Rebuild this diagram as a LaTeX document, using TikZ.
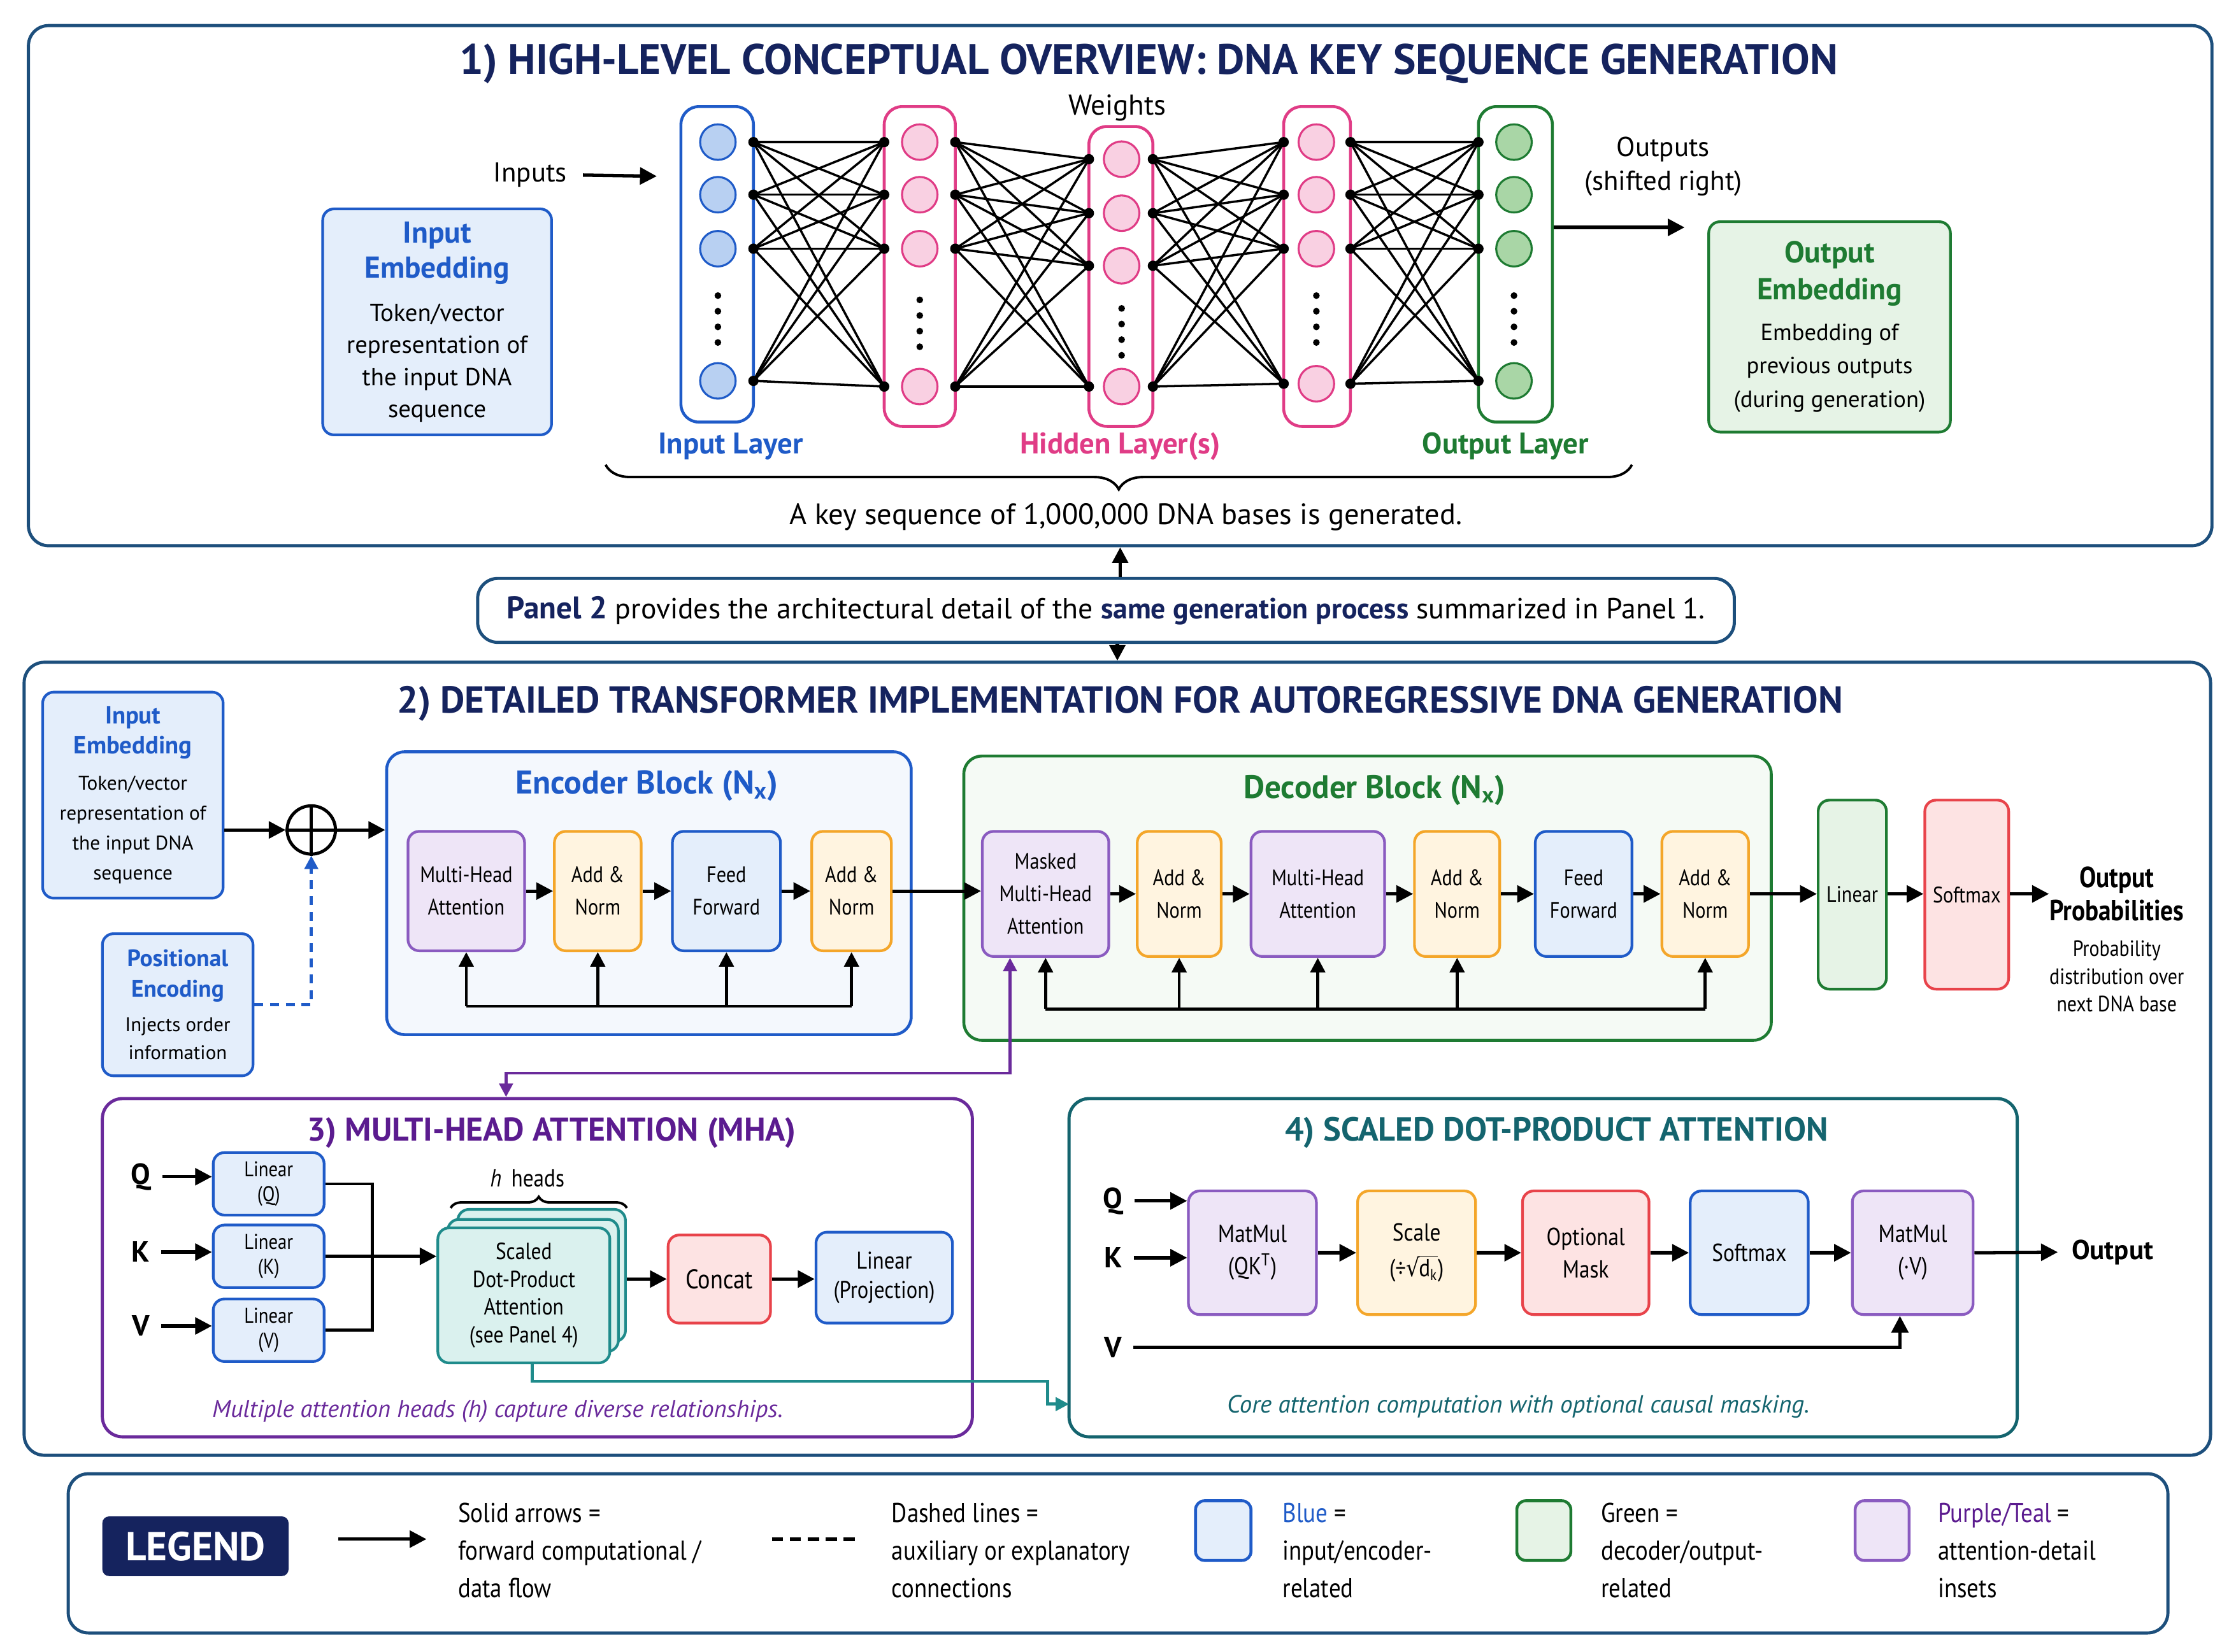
\documentclass[tikz,border=0pt]{standalone}
\usepackage{fontspec}
\setmainfont{PT Sans}
\newfontfamily\cnd{PT Sans}[FakeStretch=0.86]
\newfontfamily\djv{DejaVu Sans}[FakeStretch=0.86]
\usetikzlibrary{arrows.meta,decorations.pathreplacing,calc}
\definecolor{navy}{HTML}{15235E}
\definecolor{frame}{HTML}{1D4F7C}
\definecolor{bluedk}{HTML}{1F5BC8}
\definecolor{bluefill}{HTML}{E4EEFB}
\definecolor{bluecirc}{HTML}{B8D0F2}
\definecolor{pinkdk}{HTML}{E03C86}
\definecolor{pinkfill}{HTML}{F9D0E2}
\definecolor{greendk}{HTML}{1E7B32}
\definecolor{greenfill}{HTML}{E6F3E6}
\definecolor{greencirc}{HTML}{A9D6A6}
\definecolor{purpdk}{HTML}{8A5BC0}
\definecolor{purpfill}{HTML}{EEE5F7}
\definecolor{purptitle}{HTML}{5B1B8F}
\definecolor{purpline}{HTML}{6A2A9B}
\definecolor{orangedk}{HTML}{F4A62A}
\definecolor{orangefill}{HTML}{FFF4E0}
\definecolor{reddk}{HTML}{E8434A}
\definecolor{redfill}{HTML}{FDE3E3}
\definecolor{tealdk}{HTML}{1F8B8B}
\definecolor{tealfill}{HTML}{DAF1EE}
\definecolor{tealtitle}{HTML}{14646E}
\def\pxu{0.022315cm}
\newcommand\fsz[2]{\fontsize{#1pt}{#2pt}\selectfont}
\newcommand\boxn[7]{\node[#1, minimum width={(#5-#3)*\pxu}, minimum height={(#6-#4)*\pxu}] (#2) at ({(#3+#5)/2},{(#4+#6)/2}) {#7};}
\newcommand\sqrtdk{{\djv √}\kern-0.3pt$\overline{\mbox{d}_{\mbox{\fsz{7}{8}k}}}$}
\begin{document}
\begin{tikzpicture}[x=0.022315cm, y=-0.022315cm,
  panel/.style={draw=frame, line width=1.4pt, rounded corners=9pt, fill=white, inner sep=0pt},
  ttl/.style={font=\fsz{19}{21}\bfseries, text=navy, inner sep=0pt},
  bx/.style={line width=1.2pt, rounded corners=5pt, align=center, inner sep=1pt, font=\cnd\fsz{10}{14.5}},
  bbox/.style={bx, draw=bluedk, fill=bluefill},
  gbox/.style={bx, draw=greendk, fill=greenfill},
  pbox/.style={bx, draw=purpdk, fill=purpfill},
  obox/.style={bx, draw=orangedk, fill=orangefill},
  redbox/.style={bx, draw=reddk, fill=redfill},
  tbox/.style={bx, draw=tealdk, fill=tealfill},
  layer/.style={line width=1.3pt, rounded corners=8pt, fill=white, inner sep=0pt},
  neu/.style={circle, line width=0.9pt, minimum size={25*\pxu}, inner sep=0pt},
  wire/.style={line width=1pt},
  arr/.style={line width=1.5pt, -{Triangle[length=7.5pt,width=7.5pt]}},
  res/.style={line width=1.3pt},
  resarr/.style={line width=1.3pt, -{Triangle[length=6.5pt,width=6.5pt]}},
  purpconn/.style={draw=purpline, line width=1.3pt, {Triangle[length=6pt,width=6pt]}-{Triangle[length=6pt,width=6pt]}},
  tealconn/.style={draw=tealdk, line width=1.3pt, -{Triangle[length=6pt,width=6pt]}},
  swatch/.style={line width=1.3pt, rounded corners=4pt, inner sep=0pt},
  lgtext/.style={anchor=west, align=left, font=\cnd\fsz{12.2}{16.8}, inner sep=0pt}
]
\useasboundingbox (0,0) rectangle (1568,1162);
\fill[white] (0,0) rectangle (1568,1162);

%% ---------------- PANEL 1 ----------------
\boxn{panel}{P1}{20}{18}{1556}{384}{}
\node[ttl] (T1) at (808,45) {1) HIGH-LEVEL CONCEPTUAL OVERVIEW: DNA KEY SEQUENCE GENERATION};

\boxn{bbox, font=\fsz{11}{14.3}}{IE1}{227}{147}{388}{306}{{\fsz{13.5}{16}\bfseries\color{bluedk}Input}\\[1.5pt]{\fsz{13.5}{16}\bfseries\color{bluedk}Embedding}\\[5pt]Token/vector\\representation of\\the input DNA\\sequence}

\node[font=\fsz{12.2}{14}, inner sep=0pt] (INP) at (373,123) {Inputs};
\coordinate (INPE) at (462,124);
\draw[arr, shorten <=7pt] (INP.east) -- (INPE);

% layers
\boxn{layer, draw=bluedk}{L1}{479}{75}{530}{297}{}
\boxn{layer, draw=pinkdk}{L2}{622}{75}{672}{300}{}
\boxn{layer, draw=pinkdk}{L3}{766}{89}{811}{300}{}
\boxn{layer, draw=pinkdk}{L4}{903}{75}{950}{300}{}
\boxn{layer, draw=greendk}{L5}{1040}{75}{1092}{297}{}

\foreach \i/\y in {1/100,2/137,3/175,4/268} {
  \node[neu, draw=bluedk, fill=bluecirc] (na-\i) at (505,\y) {};
  \coordinate (ra-\i) at (530,\y);
}
\foreach \i/\y in {1/100,2/137,3/175,4/272} {
  \node[neu, draw=pinkdk, fill=pinkfill] (nb-\i) at (647,\y) {};
  \coordinate (lb-\i) at (622,\y);
  \coordinate (rb-\i) at (672,\y);
}
\foreach \i/\y in {1/112,2/150,3/187,4/272} {
  \node[neu, draw=pinkdk, fill=pinkfill] (nc-\i) at (789,\y) {};
  \coordinate (lc-\i) at (766,\y);
  \coordinate (rc-\i) at (811,\y);
}
\foreach \i/\y in {1/100,2/137,3/175,4/270} {
  \node[neu, draw=pinkdk, fill=pinkfill] (nd-\i) at (926,\y) {};
  \coordinate (ld-\i) at (903,\y);
  \coordinate (rd-\i) at (950,\y);
}
\foreach \i/\y in {1/100,2/137,3/175,4/268} {
  \node[neu, draw=greendk, fill=greencirc] (ne-\i) at (1065,\y) {};
  \coordinate (le-\i) at (1040,\y);
}
% ellipsis dots
\foreach \xx/\yy in {505/208,647/211,789/217,926/208,1065/208}
  \foreach \d in {0,1,2,3} \fill (\xx,\yy+11*\d) circle (1.5pt);

% full connections
\foreach \i in {1,...,4} \foreach \j in {1,...,4} {
  \draw[wire] (ra-\i) -- (lb-\j);
  \draw[wire] (rb-\i) -- (lc-\j);
  \draw[wire] (rc-\i) -- (ld-\j);
  \draw[wire] (rd-\i) -- (le-\j);
}
\foreach \i in {1,...,4} {
  \fill (ra-\i) circle (2.3pt); \fill (lb-\i) circle (2.3pt); \fill (rb-\i) circle (2.3pt);
  \fill (lc-\i) circle (2.3pt); \fill (rc-\i) circle (2.3pt); \fill (ld-\i) circle (2.3pt);
  \fill (rd-\i) circle (2.3pt); \fill (le-\i) circle (2.3pt);
}

\node[font=\fsz{12.8}{14}, inner sep=0pt] (WGT) at (786,76) {Weights};
\node[font=\fsz{13.3}{15}\bfseries, text=bluedk, inner sep=0pt] (LB1) at (514,314) {Input Layer};
\node[font=\fsz{13.3}{15}\bfseries, text=pinkdk, inner sep=0pt] (LB2) at (788,314) {Hidden Layer(s)};
\node[font=\fsz{13.3}{15}\bfseries, text=greendk, inner sep=0pt] (LB3) at (1059,314) {Output Layer};

\draw[decorate, decoration={brace, amplitude=11pt}, line width=1.1pt] (1148,327) -- (426,327);
\node[font=\fsz{13.2}{15}, inner sep=0pt] (KEY) at (792,364) {A key sequence of 1,000,000 DNA bases is generated.};

\node[font=\fsz{12.2}{15}, align=center, inner sep=0pt] (OUTP) at (1170,117) {Outputs\\(shifted right)};
\coordinate (OA) at (1185,160);
\draw[arr] (L5.east |- OA) -- (OA);

\boxn{gbox, font=\fsz{10.4}{15}}{OE1}{1202}{156}{1372}{304}{{\fsz{13.5}{16}\bfseries\color{greendk}Output}\\[1.5pt]{\fsz{13.5}{16}\bfseries\color{greendk}Embedding}\\[3pt]Embedding of\\previous outputs\\(during generation)}

%% ---------------- BANNER ----------------
\boxn{draw=frame, line width=1.4pt, rounded corners=9pt, fill=white, font=\fsz{13}{15}}{BAN}{336}{407}{1220}{452}{{\fsz{14}{15}\bfseries\color{navy}Panel 2} provides the architectural detail of the {\bfseries\color{navy}same generation process} summarized in Panel 1.}

%% ---------------- PANEL 2 ----------------
\boxn{panel}{P2}{17}{466}{1555}{1024}{}
\draw[line width=1.5pt, -{Triangle[length=7pt,width=7pt]}] (BAN.north -| P1.south) -- (P1.south);
\draw[line width=1.5pt, -{Triangle[length=7pt,width=7pt]}] (BAN.south -| P2.north) -- (P2.north);
\node[ttl, font=\fsz{16.8}{18}\bfseries] (T2) at (788,495) {2) DETAILED TRANSFORMER IMPLEMENTATION FOR AUTOREGRESSIVE DNA GENERATION};

\boxn{bbox, font=\fsz{8.9}{13.3}}{IE2}{30}{487}{157}{632}{{\fsz{11}{14}\bfseries\color{bluedk}Input}\\[0pt]{\fsz{11}{14}\bfseries\color{bluedk}Embedding}\\[3pt]Token/vector\\representation of\\the input DNA\\sequence}
\boxn{bbox, font=\fsz{8.8}{12.5}}{PE}{72}{657}{178}{757}{{\fsz{10.6}{14}\bfseries\color{bluedk}Positional}\\[1pt]{\fsz{10.6}{14}\bfseries\color{bluedk}Encoding}\\[3pt]Injects order\\information}

\node[circle, draw, line width=1.4pt, minimum size={34*\pxu}, inner sep=0pt] (OP) at (219,584) {};
\draw[line width=1.4pt] (OP.north) -- (OP.south) (OP.west) -- (OP.east);

% encoder
\boxn{draw=bluedk, line width=1.3pt, rounded corners=8pt, fill=bluefill!40}{ENC}{272}{529}{641}{728}{}
\node[font=\fsz{14.7}{16}\bfseries, text=bluedk, inner sep=0pt] (ENCT) at (455,553) {Encoder Block (N\textsubscript{x})};
\boxn{pbox}{EMHA}{287}{585}{369}{669}{Multi-Head\\Attention}
\boxn{obox}{EAN1}{390}{585}{451}{669}{Add \&\\Norm}
\boxn{bbox}{EFF}{473}{585}{549}{669}{Feed\\Forward}
\boxn{obox}{EAN2}{571}{585}{627}{669}{Add \&\\Norm}

\draw[arr] (IE2.east |- OP) -- (OP.west);
\draw[arr] (OP.east) -- (ENC.west |- OP);
\draw[dashed, draw=bluedk, line width=1.4pt, dash pattern=on 4pt off 3pt, -{Triangle[length=6pt,width=6pt]}] (PE.east) -| (OP.south);

\draw[arr] (EMHA.east) -- (EAN1.west);
\draw[arr] (EAN1.east) -- (EFF.west);
\draw[arr] (EFF.east) -- (EAN2.west);
\coordinate (ERY) at (0,708);
\draw[res] (EMHA.south |- ERY) -- (EAN2.south |- ERY);
\foreach \b in {EMHA,EAN1,EFF,EAN2} \draw[resarr] (\b.south |- ERY) -- (\b.south);

% decoder
\boxn{draw=greendk, line width=1.3pt, rounded corners=8pt, fill=greenfill!40}{DEC}{678}{532}{1246}{732}{}
\node[font=\fsz{14.5}{16}\bfseries, text=greendk, inner sep=0pt] (DECT) at (967,556) {Decoder Block (N\textsubscript{x})};
\boxn{pbox}{DMMHA}{691}{585}{780}{673}{Masked\\Multi-Head\\Attention}
\boxn{obox}{DAN1}{800}{585}{859}{673}{Add \&\\Norm}
\boxn{pbox}{DMHA}{880}{585}{974}{673}{Multi-Head\\Attention}
\boxn{obox}{DAN2}{995}{585}{1055}{673}{Add \&\\Norm}
\boxn{bbox}{DFF}{1080}{585}{1148}{673}{Feed\\Forward}
\boxn{obox}{DAN3}{1169}{585}{1230}{673}{Add \&\\Norm}

\draw[arr] (EAN2.east) -- (DMMHA.west |- EAN2.east);
\draw[arr] (DMMHA.east) -- (DAN1.west);
\draw[arr] (DAN1.east) -- (DMHA.west);
\draw[arr] (DMHA.east) -- (DAN2.west);
\draw[arr] (DAN2.east) -- (DFF.west);
\draw[arr] (DFF.east) -- (DAN3.west);
\coordinate (DRY) at (0,710);
\draw[res] (DMMHA.south |- DRY) -- (DAN3.south |- DRY);
\foreach \b in {DMMHA,DAN1,DMHA,DAN2,DAN3} \draw[resarr] (\b.south |- DRY) -- (\b.south);

\boxn{gbox, fill=greenfill}{LIN}{1279}{563}{1327}{696}{Linear}
\boxn{redbox}{SMX}{1354}{563}{1413}{696}{Softmax}
\draw[arr] (DAN3.east) -- (LIN.west |- DAN3.east);
\draw[arr] (LIN.east |- DAN3.east) -- (SMX.west |- DAN3.east);
\node[font=\cnd\fsz{13}{14.6}\bfseries, align=center, inner sep=0pt] (OPROB) at (1489,629) {Output\\Probabilities};
\node[font=\cnd\fsz{9.9}{12.4}, align=center, inner sep=0pt] (OSUB) at (1489,687) {Probability\\distribution over\\next DNA base};
\draw[arr] (SMX.east |- DAN3.east) -- (OPROB.west |- DAN3.east);

%% ---------------- PANEL 3 ----------------
\boxn{draw=purpline, line width=1.4pt, rounded corners=9pt, fill=white}{P3}{72}{773}{684}{1011}{}
\coordinate (PB) at (356,755);
\draw[purpconn] ([xshift={-25*\pxu}]DMMHA.south) |- (PB) -- (PB |- P3.north);
\node[font=\fsz{14.7}{16}\bfseries, text=purptitle, inner sep=0pt] (T3) at (388,797) {3) MULTI-HEAD ATTENTION (MHA)};

\node[font=\fsz{13}{15}\bfseries, inner sep=0pt] (Q3) at (99,828) {Q};
\node[font=\fsz{13}{15}\bfseries, inner sep=0pt] (K3) at (99,881) {K};
\node[font=\fsz{13}{15}\bfseries, inner sep=0pt] (V3) at (99,933) {V};
\boxn{bbox, font=\cnd\fsz{9.5}{11}}{LQ}{150}{811}{228}{855}{Linear\\(Q)}
\boxn{bbox, font=\cnd\fsz{9.5}{11}}{LK}{150}{862}{228}{906}{Linear\\(K)}
\boxn{bbox, font=\cnd\fsz{9.5}{11}}{LV}{150}{914}{228}{958}{Linear\\(V)}
\draw[arr, shorten <=5pt] (Q3.east) -- (LQ.west |- Q3.east);
\draw[arr, shorten <=5pt] (K3.east) -- (LK.west |- K3.east);
\draw[arr, shorten <=5pt] (V3.east) -- (LV.west |- V3.east);

\boxn{tbox}{SDB}{322}{851}{440}{944}{}
\boxn{tbox}{SDM}{315}{858}{435}{951}{}
\boxn{tbox, font=\cnd\fsz{10.4}{12.4}}{SD}{308}{864}{429}{959}{Scaled\\Dot-Product\\Attention\\(see Panel 4)}
\coordinate (BUS) at (262,884);
\draw[res] (LQ.east) -| (BUS) |- (LV.east);
\draw[arr] (LK.east) -- (SD.west |- LK.east);
\draw[decorate, decoration={brace, amplitude=5pt}, line width=1.1pt] (317,850) -- (441,850);
\node[font=\cnd\fsz{11}{12}, inner sep=0pt] (HH) at (371,829) {\textit{h}\, heads};

\boxn{redbox, font=\cnd\fsz{12}{14}}{CON}{470}{869}{542}{931}{Concat}
\boxn{bbox, font=\cnd\fsz{10.8}{13}}{LP}{574}{867}{670}{931}{Linear\\(Projection)}
\draw[arr] (SDB.east |- CON.west) -- (CON.west);
\draw[arr] (CON.east) -- (LP.west |- CON.east);
\node[font=\fsz{10.9}{12}\itshape, text=purpline, inner sep=0pt] (C3) at (350,993) {Multiple attention heads (h) capture diverse relationships.};

%% ---------------- PANEL 4 ----------------
\boxn{draw=tealtitle, line width=1.4pt, rounded corners=9pt, fill=white}{P4}{752}{773}{1419}{1011}{}
\coordinate (TB) at (737,972);
\coordinate (TE) at (752,988);
\draw[tealconn] ([xshift={6*\pxu}]SD.south) |- (TB) |- (TE);
\node[font=\fsz{14.9}{16}\bfseries, text=tealtitle, inner sep=0pt] (T4) at (1095,797) {4) SCALED DOT-PRODUCT ATTENTION};

\node[font=\fsz{13}{15}\bfseries, inner sep=0pt] (Q4) at (783,845) {Q};
\node[font=\fsz{13}{15}\bfseries, inner sep=0pt] (K4) at (783,885) {K};
\node[font=\fsz{13}{15}\bfseries, inner sep=0pt] (V4) at (783,948) {V};
\boxn{pbox, font=\cnd\fsz{11}{14.5}}{MM1}{836}{838}{926}{925}{MatMul\\(QK\textsuperscript{T})}
\boxn{obox, font=\cnd\fsz{11}{16}}{SCL}{955}{838}{1038}{925}{Scale\\(÷\sqrtdk)}
\boxn{redbox, font=\cnd\fsz{11}{14.5}}{MSK}{1071}{838}{1160}{925}{Optional\\Mask}
\boxn{bbox, font=\cnd\fsz{11}{14.5}}{SFX}{1189}{838}{1272}{925}{Softmax}
\boxn{pbox, font=\cnd\fsz{11}{14.5}}{MM2}{1303}{838}{1388}{925}{MatMul\\(·V)}
\draw[arr, shorten <=5pt] (Q4.east) -- (MM1.west |- Q4.east);
\draw[arr, shorten <=5pt] (K4.east) -- (MM1.west |- K4.east);
\draw[arr] (MM1.east) -- (SCL.west);
\draw[arr] (SCL.east) -- (MSK.west);
\draw[arr] (MSK.east) -- (SFX.west);
\draw[arr] (SFX.east) -- (MM2.west);
\node[font=\fsz{12.2}{15}\bfseries, inner sep=0pt] (OUT4) at (1486,881) {Output};
\draw[arr, shorten >=6pt] (MM2.east) -- (OUT4.west);
\draw[arr, shorten <=5pt] (V4.east) -| ([xshift={-9*\pxu}]MM2.south);
\node[font=\fsz{11.1}{12}\itshape, text=tealtitle, inner sep=0pt] (C4) at (1068,990) {Core attention computation with optional causal masking.};

%% ---------------- LEGEND ----------------
\boxn{panel}{LEG}{48}{1037}{1525}{1149}{}
\boxn{fill=navy, rounded corners=3pt, text=white, font=\fsz{18}{19}\bfseries, inner sep=0pt}{LGT}{72}{1067}{203}{1109}{LEGEND}
\coordinate (LA1) at (238,1083);
\coordinate (LA2) at (300,1083);
\draw[arr] (LA1) -- (LA2);
\node[lgtext] (LG1) at (322,1091) {Solid arrows =\\forward computational /\\data flow};
\coordinate (LD1) at (543,1083);
\coordinate (LD2) at (605,1083);
\draw[line width=1.6pt, dash pattern=on 5pt off 3pt] (LD1) -- (LD2);
\node[lgtext] (LG2) at (627,1091) {Dashed lines =\\auxiliary or explanatory\\connections};
\boxn{swatch, draw=bluedk, fill=bluefill}{SWB}{841}{1056}{880}{1098}{}
\node[lgtext] (LG3) at (902,1091) {{\color{bluedk}Blue} =\\input/encoder-\\related};
\boxn{swatch, draw=greendk, fill=greenfill}{SWG}{1067}{1056}{1105}{1098}{}
\node[lgtext] (LG4) at (1126,1091) {Green =\\decoder/output-\\related};
\boxn{swatch, draw=purpdk, fill=purpfill}{SWP}{1305}{1056}{1343}{1098}{}
\node[lgtext] (LG5) at (1363,1091) {{\color{purptitle}Purple/Teal} =\\attention-detail\\insets};
\end{tikzpicture}
\end{document}
